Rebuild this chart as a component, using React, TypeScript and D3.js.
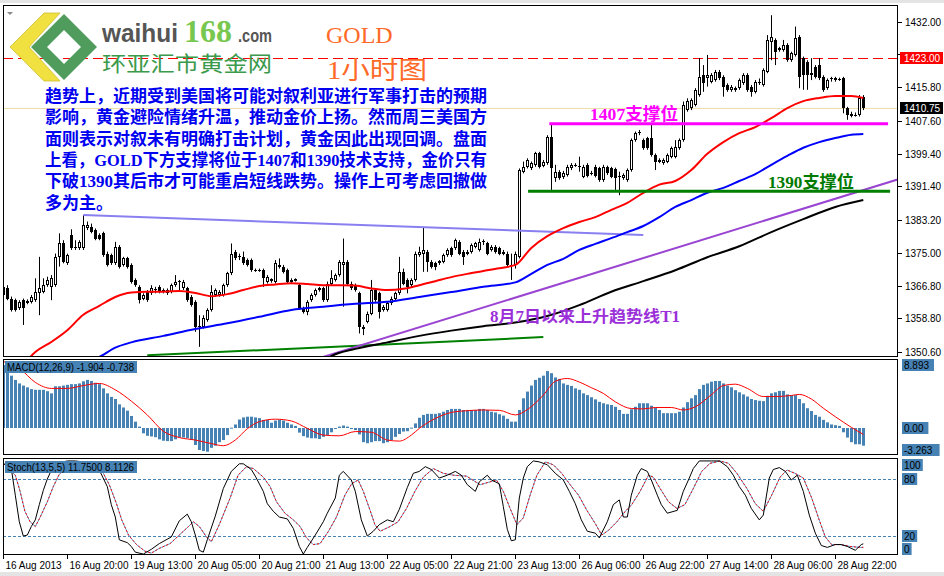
import React from "react";
import * as d3 from "d3";

// ---------- DATA ----------
// hourly candles [open, high, low, close]
const ohlc: [number, number, number, number][] = [
  [1364.6,1367.4,1363.3,1366.6],[1366.2,1367.0,1363.3,1363.5],[1363.7,1364.2,1360.5,1360.9],[1363.3,1363.7,1360.5,1360.9],
  [1361.3,1363.3,1360.9,1362.9],[1363.3,1363.7,1357.2,1361.3],[1362.7,1363.5,1362.3,1363.1],[1362.9,1364.6,1362.5,1364.2],
  [1363.3,1368.7,1362.9,1365.4],[1365.0,1374.0,1359.6,1366.2],[1365.4,1368.7,1365.0,1367.0],[1367.0,1369.1,1366.6,1368.3],
  [1366.6,1369.5,1363.3,1368.7],[1367.0,1374.8,1366.6,1374.0],[1374.0,1379.8,1371.6,1377.3],[1377.3,1378.1,1372.4,1372.8],
  [1372.4,1374.8,1372.0,1374.4],[1379.4,1380.8,1375.7,1376.1],[1376.1,1378.1,1375.7,1376.5],[1376.1,1378.1,1375.7,1377.7],
  [1376.1,1384.3,1375.7,1381.8],[1381.0,1382.7,1380.6,1381.8],[1381.4,1382.2,1379.8,1380.2],[1380.6,1381.0,1378.1,1378.5],
  [1379.4,1379.8,1378.1,1378.3],[1379.8,1380.2,1374.0,1374.4],[1374.8,1375.3,1371.6,1372.0],[1374.4,1374.8,1372.0,1372.4],
  [1372.4,1377.7,1372.0,1376.5],[1376.5,1376.9,1371.1,1371.6],[1372.0,1374.0,1371.6,1373.6],[1373.6,1374.0,1371.1,1371.6],
  [1372.0,1372.4,1367.4,1367.9],[1368.3,1368.7,1366.6,1367.0],[1366.6,1367.0,1362.5,1363.3],[1363.7,1365.0,1363.3,1364.6],
  [1365.4,1365.8,1362.9,1363.3],[1365.0,1367.0,1364.6,1366.2],[1365.9,1366.6,1365.0,1366.0],[1366.6,1367.0,1365.0,1365.4],
  [1365.4,1366.2,1365.0,1365.8],[1365.8,1366.2,1364.6,1365.0],[1365.4,1367.4,1365.0,1367.0],[1367.0,1369.5,1366.6,1367.9],
  [1367.9,1368.3,1365.8,1368.0],[1366.2,1368.3,1365.8,1367.9],[1366.2,1366.6,1362.9,1363.3],[1364.2,1364.6,1361.7,1362.1],
  [1362.9,1363.3,1355.5,1356.8],[1356.8,1359.6,1351.8,1357.0],[1356.8,1359.6,1356.3,1358.8],[1358.4,1361.3,1358.0,1360.9],
  [1360.9,1367.0,1360.5,1365.4],[1364.6,1366.2,1364.2,1365.8],[1364.6,1365.8,1364.2,1365.4],[1364.6,1367.4,1364.2,1367.0],
  [1367.0,1370.3,1366.6,1369.9],[1369.9,1377.3,1369.5,1374.8],[1375.3,1375.7,1373.2,1373.6],[1373.9,1374.8,1373.2,1374.2],
  [1374.0,1375.3,1372.0,1372.4],[1373.2,1373.6,1371.6,1372.0],[1373.2,1373.6,1370.3,1370.7],[1370.7,1371.1,1370.3,1370.8],
  [1370.7,1371.1,1370.3,1370.8],[1370.7,1371.1,1366.6,1368.7],[1367.9,1369.5,1367.4,1369.1],[1368.1,1368.7,1367.6,1368.5],
  [1367.9,1373.2,1367.4,1372.4],[1371.6,1373.6,1371.1,1372.0],[1371.6,1372.0,1369.9,1370.3],[1370.7,1371.1,1367.4,1367.9],
  [1367.9,1368.7,1367.4,1368.3],[1368.1,1368.7,1367.9,1368.5],[1367.0,1367.4,1360.9,1361.3],[1361.3,1361.7,1360.0,1360.5],
  [1360.5,1363.3,1359.6,1362.9],[1363.3,1365.0,1362.9,1364.6],[1364.6,1366.2,1364.2,1365.8],[1365.8,1366.6,1365.4,1366.2],
  [1366.2,1366.6,1362.9,1363.3],[1363.3,1367.9,1362.9,1367.4],[1367.4,1370.7,1367.0,1368.7],[1368.3,1369.9,1367.9,1369.5],
  [1369.5,1373.2,1369.1,1372.8],[1372.0,1378.5,1361.7,1372.8],[1372.8,1373.2,1367.0,1367.4],[1367.4,1367.9,1365.8,1366.2],
  [1367.0,1367.4,1365.4,1365.8],[1365.0,1365.4,1355.1,1356.8],[1356.3,1357.2,1354.7,1356.8],[1358.0,1360.5,1357.6,1360.0],
  [1360.0,1368.3,1359.6,1365.8],[1365.8,1366.2,1362.9,1363.3],[1365.0,1365.4,1358.8,1360.5],[1360.9,1362.1,1360.5,1361.7],
  [1360.9,1362.9,1360.5,1362.5],[1362.5,1364.2,1362.1,1363.7],[1363.7,1365.4,1363.3,1365.0],[1365.0,1374.0,1364.6,1370.3],
  [1370.3,1371.1,1367.0,1367.4],[1368.3,1368.7,1365.0,1366.6],[1367.0,1368.7,1366.6,1368.3],[1368.3,1375.3,1367.9,1374.8],
  [1374.4,1376.5,1374.0,1375.3],[1374.8,1381.4,1370.3,1375.7],[1375.3,1375.7,1370.3,1372.8],[1372.8,1373.2,1371.1,1371.6],
  [1372.4,1372.8,1370.7,1371.6],[1372.6,1373.2,1372.0,1372.9],[1372.8,1374.8,1372.4,1374.4],[1374.4,1376.1,1374.0,1375.7],
  [1376.1,1376.5,1374.0,1374.4],[1376.1,1378.5,1375.7,1378.1],[1377.7,1378.1,1374.4,1374.8],[1375.3,1375.7,1372.0,1374.0],
  [1374.8,1375.7,1374.4,1375.3],[1375.3,1377.3,1374.8,1376.9],[1376.5,1377.7,1376.1,1377.3],[1375.7,1378.5,1375.3,1377.7],
  [1377.7,1378.3,1376.9,1378.0],[1377.3,1377.7,1374.4,1374.8],[1375.7,1376.9,1375.3,1376.5],[1376.5,1376.9,1374.8,1375.3],
  [1376.1,1376.5,1374.4,1374.8],[1374.8,1375.7,1374.4,1375.3],[1374.8,1375.3,1371.6,1372.0],[1371.8,1374.8,1368.3,1372.1],
  [1372.0,1375.3,1371.1,1374.8],[1374.0,1395.8,1373.6,1395.4],[1395.0,1397.5,1394.6,1396.2],[1396.2,1398.3,1395.8,1397.9],
  [1395.8,1397.5,1395.4,1397.1],[1396.7,1399.9,1396.2,1399.5],[1399.5,1399.9,1395.8,1396.2],[1396.4,1397.9,1396.1,1397.5],
  [1397.2,1404.0,1396.7,1403.6],[1403.6,1406.5,1390.5,1395.8],[1393.4,1396.7,1392.5,1395.0],[1395.0,1395.4,1393.0,1393.4],
  [1393.6,1395.2,1393.2,1394.8],[1394.2,1396.7,1393.8,1396.2],[1395.8,1397.1,1395.4,1396.7],[1396.6,1397.1,1396.2,1396.7],
  [1396.3,1398.7,1395.0,1396.5],[1393.8,1396.7,1393.4,1396.2],[1396.7,1397.1,1393.6,1393.9],[1394.5,1395.2,1394.1,1394.8],
  [1396.2,1396.7,1393.6,1393.9],[1395.8,1396.2,1392.5,1392.9],[1392.9,1396.7,1392.5,1396.2],[1396.1,1396.5,1394.2,1394.6],
  [1395.8,1396.2,1393.4,1393.8],[1395.6,1396.0,1390.5,1393.4],[1393.7,1395.0,1389.2,1394.0],[1393.4,1394.6,1393.0,1394.2],
  [1392.9,1395.8,1392.5,1395.4],[1395.4,1403.2,1395.0,1402.8],[1402.8,1404.9,1402.4,1404.5],[1404.6,1405.3,1404.0,1404.9],
  [1402.8,1403.2,1400.4,1400.8],[1403.2,1403.6,1400.4,1400.8],[1403.2,1406.5,1398.7,1399.1],[1399.1,1399.5,1395.4,1397.5],
  [1397.5,1398.3,1397.1,1397.9],[1397.1,1398.3,1396.7,1397.9],[1397.5,1399.5,1397.1,1399.1],[1398.7,1401.2,1398.3,1400.8],
  [1398.7,1402.8,1398.3,1401.2],[1400.8,1403.2,1400.4,1402.8],[1402.8,1412.3,1402.4,1411.5],[1410.2,1413.1,1409.8,1412.5],
  [1410.6,1413.1,1410.2,1412.7],[1411.5,1415.6,1411.1,1415.2],[1413.9,1423.0,1413.5,1418.4],[1418.8,1421.3,1414.7,1416.8],
  [1418.0,1423.8,1416.0,1418.8],[1417.2,1419.3,1416.8,1418.8],[1417.6,1420.1,1417.2,1419.7],[1419.7,1420.1,1417.6,1418.0],
  [1418.4,1418.8,1413.5,1416.0],[1416.4,1416.8,1414.7,1415.2],[1415.2,1416.4,1414.7,1416.0],[1415.2,1416.0,1414.7,1415.6],
  [1415.6,1418.0,1415.2,1417.6],[1416.8,1419.3,1416.4,1418.8],[1418.8,1419.3,1414.7,1415.2],[1416.0,1416.4,1413.5,1414.7],
  [1414.7,1417.6,1414.3,1417.2],[1416.8,1418.0,1416.4,1417.2],[1416.4,1420.5,1416.0,1420.1],[1419.7,1428.7,1419.3,1427.5],
  [1427.1,1433.6,1422.5,1428.3],[1427.5,1427.9,1421.3,1424.6],[1425.0,1425.8,1424.6,1425.4],[1425.0,1427.5,1424.6,1426.2],
  [1426.2,1426.7,1422.1,1422.5],[1422.5,1424.6,1422.1,1424.2],[1423.8,1430.8,1423.4,1427.9],[1428.3,1428.7,1415.6,1418.4],
  [1423.0,1423.4,1415.2,1418.8],[1422.1,1422.5,1415.2,1418.8],[1418.8,1423.0,1417.6,1419.3],[1420.9,1421.3,1418.0,1418.4],
  [1421.3,1423.0,1417.6,1418.0],[1418.4,1418.8,1414.7,1415.2],[1415.6,1418.0,1415.2,1417.6],[1418.0,1418.4,1417.2,1418.1],
  [1417.6,1418.4,1417.2,1418.0],[1417.8,1418.2,1417.4,1417.9],[1418.0,1418.4,1409.4,1410.6],[1410.6,1411.0,1407.8,1409.0],
  [1408.7,1409.8,1408.4,1409.2],[1408.8,1409.6,1408.6,1409.1],[1409.0,1413.9,1408.6,1413.1],[1413.5,1413.9,1410.2,1410.75],
];

const timeLabelBars = [0, 16, 32, 48, 64, 80, 96, 112, 128, 144, 160, 176, 192, 208];
const timeLabels = [
  "16 Aug 2013", "16 Aug 20:00", "19 Aug 13:00", "20 Aug 05:00", "20 Aug 21:00", "21 Aug 13:00", "22 Aug 05:00",
  "22 Aug 21:00", "23 Aug 13:00", "26 Aug 06:00", "26 Aug 22:00", "27 Aug 14:00", "28 Aug 06:00", "28 Aug 22:00",
];
const priceTicks = [1432.0, 1415.8, 1407.6, 1399.4, 1391.4, 1383.2, 1375.0, 1366.8, 1358.8, 1350.6];
const hiddenTick = 1424.0;
const lastPrice = 1410.75;
const resistPrice = 1423.0;

// moving averages [bar, price]
const redMA: [number, number][] = [
  [6,1348.5],[8,1350.5],[12,1353.0],[16,1355.9],[20,1359.7],[24,1361.9],[28,1364.1],[32,1365.2],[36,1365.4],[40,1365.4],
  [44,1365.6],[48,1365.1],[52,1364.3],[56,1364.8],[60,1365.8],[64,1366.8],[68,1367.2],[72,1367.5],[76,1367.3],[80,1367.0],
  [84,1367.0],[88,1366.9],[92,1366.2],[96,1365.8],[100,1366.1],[104,1367.0],[108,1368.0],[112,1369.0],[116,1369.8],
  [120,1370.5],[124,1371.2],[128,1372.0],[132,1376.2],[136,1379.1],[140,1381.1],[144,1382.6],[148,1383.8],[152,1385.6],
  [156,1387.3],[160,1389.8],[164,1391.8],[168,1392.7],[172,1395.4],[176,1399.4],[180,1402.3],[184,1404.5],[188,1406.0],
  [192,1408.2],[196,1410.7],[200,1412.4],[204,1413.2],[208,1413.7],[212,1413.7],[215,1413.2],
];
const blueMA: [number, number][] = [
  [22,1348.5],[24,1349.3],[28,1351.6],[32,1352.9],[40,1354.5],[48,1356.2],[56,1357.6],[64,1359.2],[72,1360.9],[80,1361.7],
  [88,1362.4],[96,1362.9],[104,1364.1],[112,1365.3],[120,1366.6],[128,1367.7],[132,1369.8],[136,1372.0],[140,1373.5],
  [144,1375.7],[148,1377.2],[152,1378.6],[156,1380.1],[160,1381.6],[164,1383.8],[168,1386.3],[172,1388.0],[176,1389.8],
  [180,1391.0],[184,1392.7],[188,1394.4],[192,1396.7],[196,1398.9],[200,1400.9],[204,1402.3],[208,1403.3],[212,1404.1],
  [215,1404.3],
];
const blackMA: [number, number][] = [
  [80,1348.3],[82,1349.5],[88,1351.3],[96,1352.9],[104,1354.5],[112,1355.8],[120,1356.9],[128,1357.8],[136,1359.4],
  [144,1362.1],[152,1365.4],[160,1368.0],[168,1370.7],[176,1373.9],[184,1376.6],[192,1380.1],[200,1383.3],[208,1386.3],
  [215,1388.0],
];

// drawn trend lines [bar, price]
const trendT1: [number, number][] = [[75, 1347.8], [225, 1393.5]];
const trendDown: [number, number][] = [[20, 1384.3], [160, 1379.4]];
const trendLow: [number, number][] = [[36, 1349.7], [135, 1354.2]];
const support1407: [number, number][] = [[136.5, 1406.8], [221.2, 1406.8]];
const support1390: [number, number][] = [[131.2, 1390.2], [221.7, 1390.2]];

// MACD histogram per bar
const macdHist = [
  8.9,7.9,7.4,6.8,6.3,6.0,5.75,5.5,5.4,5.4,
  5.4,5.2,4.9,5.9,5.9,6.0,6.1,6.2,6.2,6.3,
  6.6,6.8,6.65,6.4,6.2,5.6,4.9,4.4,4.1,3.35,
  2.9,2.45,1.7,0.9,0.2,-0.75,-1.1,-1.2,-1.3,-1.6,
  -1.8,-1.85,-1.85,-1.6,-1.35,-1.35,-1.45,-1.7,-2.4,-3.1,
  -3.25,-3.35,-2.8,-2.5,-2.0,-1.7,-1.0,0.05,0.5,1.2,
  1.5,1.6,1.6,1.5,1.4,1.15,1.15,0.75,1.05,1.15,
  1.05,0.75,0.5,0.3,-0.65,-1.15,-1.35,-1.45,-1.45,-1.55,
  -1.25,-1.0,-0.6,-0.05,0.2,0.35,0.2,-0.15,-0.3,-0.9,
  -2.0,-2.15,-2.0,-1.85,-1.85,-2.15,-2.0,-1.7,-1.25,-0.85,
  -0.5,-0.45,0.05,0.65,1.45,1.85,2.0,2.0,2.0,2.1,
  2.3,2.55,2.7,2.7,2.7,2.55,2.55,
  2.55,2.55,2.7,2.7,2.55,2.3,2.2,1.95,1.75,1.3,
  0.9,0.9,2.55,4.2,5.15,6.0,6.8,7.1,7.4,8.05,
  7.75,7.15,6.95,6.3,6.1,5.95,5.6,5.4,4.9,4.65,
  4.35,4.05,3.7,3.5,3.35,3.25,3.0,2.55,2.0,2.0,
  2.65,3.0,3.5,3.5,3.5,3.15,2.9,2.55,2.1,2.1,
  2.1,2.1,2.3,2.9,3.65,4.2,4.65,5.5,6.1,6.3,
  6.55,6.65,6.65,6.3,6.0,5.75,5.35,5.05,4.75,4.45,
  4.1,3.95,3.85,3.8,4.55,4.9,5.05,5.25,5.25,4.75,
  4.65,4.65,4.1,3.5,2.8,2.4,1.85,1.6,1.15,0.8,
  0.5,0.4,0.3,-0.6,-1.35,-2.0,-2.3,-2.3,-2.5,
];
const macdSignal: [number, number][] = [
  [0,9.4],[4,8.45],[8,6.45],[12,5.6],[16,5.6],[20,6.0],[24,6.3],[28,5.4],[32,3.8],[36,1.85],[40,-0.45],[44,-1.35],
  [48,-1.7],[52,-2.2],[55,-2.5],[58,-1.7],[61,-0.1],[64,0.9],[68,1.25],[72,1.0],[76,-0.05],[80,-1.0],[84,-1.1],
  [88,-0.5],[92,-0.6],[96,-1.7],[99,-1.85],[102,-1.0],[104,-0.05],[108,1.35],[112,2.2],[116,2.45],[120,2.55],
  [124,2.5],[128,1.85],[131,2.6],[135,4.65],[138,6.6],[141,7.0],[144,6.5],[147,5.7],[150,4.9],[153,3.7],[157,2.75],
  [160,2.7],[163,2.9],[167,2.9],[170,2.55],[173,3.0],[177,4.7],[180,6.0],[183,6.2],[186,5.6],[190,4.45],[193,4.45],
  [197,4.6],[199,4.75],[202,4.1],[205,2.8],[208,1.6],[212,0.1],[215,-0.9],
];
const macdAxis = [8.893, 0.0, -3.263];

// Stochastic [bar, value]
const stochK: [number, number][] = [
  [0,96.5],[2,91],[3,63],[4,35],[5,20],[6,21],[7,30],[8,37],[9,53],[10,68],[11,80],[12,89],[13,94],[14,97],[16,99],
  [18,99],[20,98],[22,96],[24,89.5],[26,72],[27,53],[28,40],[29,16],[31,13],[32,9],[33,3],[35,1],[37,6],[39,12],
  [42,19],[44,36],[46,43],[47,35],[48,21],[49,5],[50,3],[51,16],[53,41],[55,70],[57,88],[59,96],[60,96],[62,90],
  [63,83],[65,67],[66,54],[67.5,46],[69,40],[71,38],[72.5,28],[74,9],[75,1],[76,8],[78,21],[80,35],[81,44],[83,60],
  [84,84],[85,88],[87,79],[88,67],[89.5,37],[91,20],[92.5,25],[94,32],[96,37],[97.5,35],[99,48],[101,71],[102.5,86],
  [104,88],[105.5,93],[107,90],[109,81],[111,84],[113,88],[114.5,84],[116,74],[118,67],[119,77],[121,84],[122,79],
  [124,75],[125,51],[126,27],[127,15],[128,16],[129,60],[130,81],[131,93],[132.5,99],[134,98],[136,95],[138,86],
  [140,79],[141.5,67],[143,54],[144.5,37],[146,25],[148,23],[149,18],[151,35],[152.5,53],[154,58],[155,40],[156,40],
  [157,63],[158.5,84],[159.5,91],[161,88],[162,79],[163.5,63],[164.5,53],[166,44],[168.5,47],[170,67],[171.5,81],
  [172.5,91],[174,99],[177,99],[179,99],[181,93],[182.5,84],[184,72],[185.5,63],[187,49],[188.5,40],[189,37],[190,42],
  [191.5,81],[192.5,90],[194,92],[195.5,88],[197,79],[198.5,84],[200,67],[201.5,42],[203,23],[204.5,10],[206,8],
  [208,11],[209.5,11],[211,9],[213,5],[214.5,11],[215,11.75],
];
const stochD: [number, number][] = [
  [0,96.5],[3,84],[4.2,67],[5.4,46],[6.7,35],[8,30],[9,38],[11,56],[12.5,72],[14,85],[16,93],[18,97],[20,98],[22,96],
  [24.5,90],[26.5,74],[28.3,54],[29.6,37],[31.3,21],[33.3,11],[35.4,4],[37,2],[39,7],[41.7,12],[44,21],[46.3,30],
  [47.5,35],[49,30],[50.8,19],[52,14],[54,32],[56.7,60],[58.7,84],[60.8,93],[62.5,91],[65,82],[66.7,72],[68.3,56],
  [70.4,44],[72.5,37],[74.2,30],[75.8,18],[77.5,11],[79.2,12],[81.3,25],[83.3,40],[85.4,63],[87.1,75],[88.7,79],
  [90,67],[91.7,47],[92.9,32],[94.2,25],[96.7,30],[98.7,35],[100.8,49],[102.9,67],[105,82],[107.5,91],[110,86],
  [112.5,84],[115.8,83],[119.2,74],[121.7,77],[123.3,79],[125,67],[126.7,49],[128.4,32],[130,39],[131.7,63],
  [133.4,84],[135.5,98],[137.5,95],[139.6,86],[141.7,74],[143.8,63],[145.9,47],[148,33],[149.6,21],[151.3,26],
  [153.4,35],[155.5,46],[157.1,53],[159.2,67],[161.3,84],[162.5,82],[164.2,70],[166.3,56],[168.4,49],[170.4,53],
  [172.5,70],[174.6,88],[176.7,96.5],[179.2,99],[181.3,96.5],[183.4,86],[185.9,70],[188,54],[190,46],[192.1,63],
  [194.2,82],[195.9,89.5],[197.9,86],[200,81],[202.1,60],[203.8,39],[205.5,19],[207.1,11],[209.2,11],[211.7,9],
  [214.2,8],[215,8.1],
];
const stochLevels = [80, 20];
const stochAxis = [100, 80, 20, 0];

const commentLines = [
  "趋势上，近期受到美国将可能对叙利亚进行军事打击的预期",
  "影响，黄金避险情绪升温，推动金价上扬。然而周三美国方",
  "面则表示对叙未有明确打击计划，黄金因此出现回调。盘面",
  "上看，GOLD下方支撑将位于1407和1390技术支持，金价只有",
  "下破1390其后市才可能重启短线跌势。操作上可考虑回撤做",
  "多为主。",
];

// ---------- COMPONENT ----------
const AX_FONT = "'Liberation Sans', Arial, sans-serif";
const CJK_SERIF = "'Liberation Serif', 'Noto Sans CJK SC', serif";

export default function App() {
  const x = d3.scaleLinear().domain([0, 215]).range([3.3, 863.3]);
  const yP = d3.scaleLinear().domain([1350.6, 1432]).range([351.7, 21.7]);
  const yM = d3.scaleLinear().domain([-3.263, 8.893]).range([451.1, 365.1]);
  const yS = d3.scaleLinear().domain([0, 100]).range([555, 460]);

  const curveP = d3.line<[number, number]>().x((d) => x(d[0])).y((d) => yP(d[1])).curve(d3.curveMonotoneX);
  const straightP = d3.line<[number, number]>().x((d) => x(d[0])).y((d) => yP(d[1]));
  const curveM = d3.line<[number, number]>().x((d) => x(d[0])).y((d) => yM(d[1])).curve(d3.curveMonotoneX);
  const lineS = d3.line<[number, number]>().x((d) => x(d[0])).y((d) => yS(d[1]));

  const L = 3, R = 898;
  const mainTop = 5, mainBot = 357;
  const macdTop = 359, macdBot = 455;
  const stTop = 458, stBot = 555;

  return (
    <svg width={944} height={576} style={{ position: "absolute", left: 0, top: 0, background: "#fff" }}
      xmlns="http://www.w3.org/2000/svg">
      <defs>
        <clipPath id="clipMain"><rect x={L} y={mainTop} width={R - L} height={mainBot - mainTop} /></clipPath>
        <clipPath id="clipMacd"><rect x={L} y={macdTop} width={R - L} height={macdBot - macdTop} /></clipPath>
        <clipPath id="clipSt"><rect x={L} y={stTop} width={R - L} height={stBot - stTop} /></clipPath>
      </defs>
      <rect x={0} y={0} width={944} height={576} fill="#fff" />
      <rect x={0} y={0} width={944} height={3} fill="#e4e4e4" />
      <rect x={0} y={572} width={944} height={4} fill="#e4e4e4" />

      {/* ---------- MAIN PANEL ---------- */}
      <g clipPath="url(#clipMain)">
        <line x1={L} x2={R} y1={Math.round(yP(lastPrice)) + 0.5} y2={Math.round(yP(lastPrice)) + 0.5} stroke="#eedcaa" strokeWidth={1} />
        <line x1={L} x2={R} y1={Math.round(yP(resistPrice)) + 0.5} y2={Math.round(yP(resistPrice)) + 0.5} stroke="#ff0000" strokeWidth={1} strokeDasharray="10,5" />

        {ohlc.map((d, i) => {
          const [o, h, l, c] = d;
          const xi = Math.round(x(i));
          const yh = yP(h), yl = yP(l);
          const yTop = Math.round(yP(Math.max(o, c)));
          const yBot = Math.round(yP(Math.min(o, c)));
          const bull = c >= o;
          const hgt = Math.max(1, yBot - yTop);
          return (
            <g key={i}>
              <line x1={xi + 0.5} x2={xi + 0.5} y1={yh} y2={yl} stroke="#000" strokeWidth={1} />
              {hgt <= 1 ? (
                <rect x={xi - 1} y={yTop} width={3} height={1} fill="#000" />
              ) : bull ? (
                <rect x={xi - 0.5} y={yTop + 0.5} width={2} height={hgt - 1} fill="#fff" stroke="#000" strokeWidth={1} />
              ) : (
                <rect x={xi - 1} y={yTop} width={3} height={hgt} fill="#000" />
              )}
            </g>
          );
        })}

        <path d={straightP(trendLow) || ""} fill="none" stroke="#008000" strokeWidth={2} />
        <path d={straightP(trendDown) || ""} fill="none" stroke="#8a7ff0" strokeWidth={2} />
        <path d={straightP(trendT1) || ""} fill="none" stroke="#9a45d2" strokeWidth={2} />

        <path d={curveP(blackMA) || ""} fill="none" stroke="#000" strokeWidth={2} />
        <path d={curveP(blueMA) || ""} fill="none" stroke="#0000ff" strokeWidth={2} />
        <path d={curveP(redMA) || ""} fill="none" stroke="#ff0000" strokeWidth={2} />

        <path d={straightP(support1407) || ""} fill="none" stroke="#ff00ff" strokeWidth={3} />
        <path d={straightP(support1390) || ""} fill="none" stroke="#008000" strokeWidth={3} />
      </g>

      <text x={590} y={120} fontFamily={CJK_SERIF} fontWeight="bold" fontSize={17} fill="#ff00ff" textLength={88} lengthAdjust="spacingAndGlyphs">1407支撑位</text>
      <text x={768} y={188} fontFamily={CJK_SERIF} fontWeight="bold" fontSize={17} fill="#007a00" textLength={86} lengthAdjust="spacingAndGlyphs">1390支撑位</text>
      <text x={490} y={322} fontFamily={CJK_SERIF} fontWeight="bold" fontSize={16} fill="#9b30d9" textLength={190} lengthAdjust="spacingAndGlyphs">8月7日以来上升趋势线T1</text>

      <text x={326} y={43} fontFamily="'Liberation Serif', serif" fontSize={24} fill="#ff6a28">GOLD</text>
      <text x={327} y={79} fontFamily={CJK_SERIF} fontSize={25} fill="#ff6a28" textLength={100} lengthAdjust="spacingAndGlyphs">1小时图</text>

      {commentLines.map((t, i) => (
        <text key={i} x={45} y={102 + i * 21.3} fontFamily={CJK_SERIF} fontWeight="bold" fontSize={17} fill="#0000f0"
          {...(i < 5 ? { textLength: 442, lengthAdjust: "spacingAndGlyphs" } : {})}>{t}</text>
      ))}

      {/* logo */}
      <g>
        <path d="M64,14 L97,47 L64,80 L31,47 Z M64,30 L47,47 L64,64 L81,47 Z" fill="#4f9c5d" fillRule="evenodd" />
        <path d="M10,47 L44,13 L60,13 L29,47 L60,81 L44,81 Z" fill="#f0e040" stroke="#cdbf30" strokeWidth={0.8} />
        <text x={102} y={42} fontFamily="'Liberation Sans', Arial, sans-serif" fontWeight="bold" fontSize={25} fill="#555" textLength={76} lengthAdjust="spacingAndGlyphs">waihui</text>
        <text x={184} y={42} fontFamily="'Liberation Serif', serif" fontWeight="bold" fontSize={31} fill="#78c850" textLength={48} lengthAdjust="spacingAndGlyphs">168</text>
        <text x={238} y={42} fontFamily="'Liberation Sans', Arial, sans-serif" fontWeight="bold" fontSize={18} fill="#555" textLength={34} lengthAdjust="spacingAndGlyphs">.com</text>
        <text x={102} y={71} fontFamily="'Liberation Sans', 'Noto Sans CJK SC', sans-serif" fontSize={21} fill="#3c9a4c" textLength={170} lengthAdjust="spacingAndGlyphs">环亚汇市黄金网</text>
        <path d="M7,12 L13,12 L10,15 Z" fill="#888" />
      </g>

      {/* ---------- MACD PANEL ---------- */}
      <g clipPath="url(#clipMacd)">
        {macdHist.map((v, i) => {
          const xi = Math.round(x(i));
          const y0 = yM(0), y1 = yM(v);
          return <rect key={i} x={xi - 1} y={Math.min(y0, y1)} width={3} height={Math.max(1, Math.abs(y1 - y0))} fill="#4682b4" />;
        })}
        <path d={curveM(macdSignal) || ""} fill="none" stroke="#ff0000" strokeWidth={1} />
      </g>
      <rect x={5} y={361} width={132} height={12} fill="#4682b4" />
      <text x={7} y={371} fontFamily={AX_FONT} fontSize={10} fill="#000" textLength={127} lengthAdjust="spacingAndGlyphs">MACD(12,26,9) -1.904 -0.738</text>

      {/* ---------- STOCH PANEL ---------- */}
      <g clipPath="url(#clipSt)">
        {stochLevels.map((v) => (
          <line key={v} x1={L} x2={R} y1={Math.round(yS(v)) + 0.5} y2={Math.round(yS(v)) + 0.5} stroke="#4682b4" strokeWidth={1} strokeDasharray="3,2" />
        ))}
        <path d={lineS(stochD) || ""} fill="none" stroke="#5aa2d6" strokeWidth={1} />
        <path d={lineS(stochD) || ""} fill="none" stroke="#ff0000" strokeWidth={1} strokeDasharray="2,2" />
        <path d={lineS(stochK) || ""} fill="none" stroke="#000" strokeWidth={1} />
      </g>
      <rect x={5} y={461} width={132} height={12} fill="#4682b4" />
      <text x={7} y={471} fontFamily={AX_FONT} fontSize={10} fill="#000" textLength={127} lengthAdjust="spacingAndGlyphs">Stoch(13,5,5) 11.7500 8.1126</text>

      {/* ---------- FRAMES ---------- */}
      <rect x={L + 0.5} y={mainTop + 0.5} width={R - L - 1} height={mainBot - mainTop - 1} fill="none" stroke="#000" strokeWidth={1} />
      <rect x={L + 0.5} y={macdTop + 0.5} width={R - L - 1} height={macdBot - macdTop - 1} fill="none" stroke="#000" strokeWidth={1} />
      <rect x={L + 0.5} y={stTop + 0.5} width={R - L - 1} height={stBot - stTop - 1} fill="none" stroke="#000" strokeWidth={1} />

      {/* ---------- PRICE AXIS ---------- */}
      {priceTicks.map((v) => {
        const yy = Math.round(yP(v)) + 0.5;
        return (
          <g key={v}>
            <line x1={R} x2={R + 4} y1={yy} y2={yy} stroke="#000" />
            <text x={905} y={yy + 3.5} fontFamily={AX_FONT} fontSize={10} fill="#000">{v.toFixed(2)}</text>
          </g>
        );
      })}
      <line x1={R} x2={R + 4} y1={Math.round(yP(hiddenTick)) + 0.5} y2={Math.round(yP(hiddenTick)) + 0.5} stroke="#000" />
      <rect x={900} y={Math.round(yP(resistPrice)) - 6} width={43} height={12} fill="#ff0000" />
      <text x={904} y={Math.round(yP(resistPrice)) + 4} fontFamily={AX_FONT} fontSize={10} fill="#fff">{resistPrice.toFixed(2)}</text>
      <rect x={900} y={Math.round(yP(lastPrice)) - 6} width={43} height={12} fill="#000" />
      <text x={904} y={Math.round(yP(lastPrice)) + 4} fontFamily={AX_FONT} fontSize={10} fill="#fff">{lastPrice.toFixed(2)}</text>

      {macdAxis.map((v, i) => {
        const yy = i === 0 ? 365 : i === 1 ? 428 : 450;
        const label = i === 1 ? "0.00" : v.toFixed(3);
        const w = label.length * 5.6 + 4;
        return (
          <g key={v}>
            <rect x={902} y={yy - 6} width={w} height={12} fill="#4682b4" />
            <text x={904} y={yy + 4} fontFamily={AX_FONT} fontSize={10} fill="#000">{label}</text>
          </g>
        );
      })}

      {stochAxis.map((v) => {
        const yy = v === 100 ? 465 : v === 0 ? 549 : Math.round(yS(v));
        const label = String(v);
        const w = label.length * 5.6 + 4;
        return (
          <g key={v}>
            <rect x={902} y={yy - 6} width={w} height={12} fill="#4682b4" />
            <text x={904} y={yy + 4} fontFamily={AX_FONT} fontSize={10} fill="#000">{label}</text>
          </g>
        );
      })}

      {/* ---------- TIME AXIS ---------- */}
      {timeLabelBars.map((b, i) => {
        const xx = Math.round(x(b)) + 0.5;
        return (
          <g key={b}>
            <line x1={xx} x2={xx} y1={stBot} y2={stBot + 4} stroke="#000" />
            <text x={xx + 2} y={569} fontFamily={AX_FONT} fontSize={10} fill="#000">{timeLabels[i]}</text>
          </g>
        );
      })}
    </svg>
  );
}
